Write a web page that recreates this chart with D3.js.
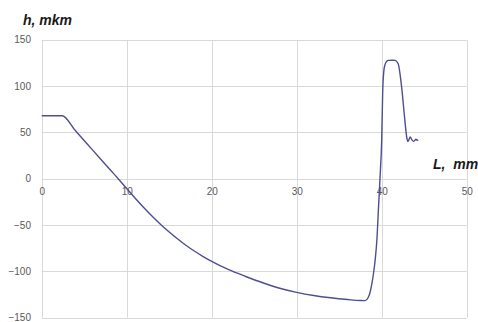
<!DOCTYPE html>
<html>
<head>
<meta charset="utf-8">
<script src="https://cdn.jsdelivr.net/npm/d3@7"></script>
<style>
  html, body { margin: 0; padding: 0; background: #fff; }
  svg { display: block; }
</style>
</head>
<body>
<svg id="chart" width="478" height="322"></svg>
<script>
// Profile measurement: height h (µm) along length L (mm)
const lengthMm = [0, 2.0, 2.4, 4.0, 6.0, 8.0, 9.0, 10, 11, 12, 13, 14, 15, 16, 17, 18, 19, 20,
  22, 24, 26, 28, 30, 32, 34, 36, 37.5, 38.05, 38.4, 38.65, 38.85, 39.04, 39.25, 39.44, 39.62,
  39.82, 40.0, 40.12, 40.25, 40.4, 40.6, 40.8, 41.3, 41.6, 41.85, 41.98, 42.2, 42.38, 42.68,
  42.96, 43.08, 43.22, 43.35, 43.55, 43.74, 43.9, 44.02, 44.2, 44.3];
const heightUm = [68, 68, 68, 51.5, 30.9, 10.3, 0, -10.6, -21, -31, -40.5, -49.3, -57.5, -65, -72,
  -78.3, -84, -89.2, -98.2, -105.5, -112.3, -118.2, -122.6, -126, -128.5, -130.4, -131.5, -131.6,
  -128.5, -122, -113, -102, -86, -65, -32,
  4, 42, 95, 116, 123.5, 126.8, 127.8, 128, 127.8, 125.5, 123, 110, 96, 67.3,
  44, 40.3, 42.5, 45, 42, 40.3, 41.5, 42.8, 41.4, 42];

const xTicks = [0, 10, 20, 30, 40, 50];
const yTicks = [-150, -100, -50, 0, 50, 100, 150];
const yTitle = "h, mkm";
const xTitle = "L,  mm";

const svg = d3.select("#chart");

const x = d3.scaleLinear().domain([0, 50]).range([41.7, 466.7]);
const y = d3.scaleLinear().domain([-150, 150]).range([317.7, 39.8]);

// grid
const grid = svg.append("g").attr("stroke", "#d9d9d9").attr("stroke-width", 1);
grid.selectAll("line.v").data(xTicks).join("line")
  .attr("x1", d => Math.round(x(d)) + 0.5).attr("x2", d => Math.round(x(d)) + 0.5)
  .attr("y1", y(150)).attr("y2", y(-150));
grid.selectAll("line.h").data(yTicks).join("line")
  .attr("y1", d => Math.round(y(d)) + 0.5).attr("y2", d => Math.round(y(d)) + 0.5)
  .attr("x1", x(0)).attr("x2", x(50));

// y axis labels
const yAxis = d3.axisLeft(y).tickValues(yTicks).tickSize(0).tickPadding(0);
svg.append("g")
  .attr("transform", `translate(${x(0) - 10.7},0)`)
  .call(yAxis)
  .call(g => g.select(".domain").remove())
  .call(g => g.selectAll("text")
    .attr("dy", "0.3em")
    .attr("fill", "#595959")
    .style("font-family", "'Liberation Sans', Arial, sans-serif")
    .style("font-size", "10px"));

// x axis labels, placed under the zero line
const xAxis = d3.axisBottom(x).tickValues(xTicks).tickSize(0).tickPadding(0);
svg.append("g")
  .attr("transform", `translate(0,${y(0) + 9})`)
  .call(xAxis)
  .call(g => g.select(".domain").remove())
  .call(g => g.selectAll("text")
    .attr("fill", "#595959")
    .style("font-family", "'Liberation Sans', Arial, sans-serif")
    .style("font-size", "10px"));

// profile line
const pts = lengthMm.map((L, i) => [L, heightUm[i]]);
const line = d3.line()
  .x(d => x(d[0]))
  .y(d => y(d[1]))
  .curve(d3.curveMonotoneX);
svg.append("path")
  .datum(pts)
  .attr("d", line)
  .attr("fill", "none")
  .attr("stroke", "#4e4e90")
  .attr("stroke-width", 1.4)
  .attr("stroke-linejoin", "round");

// axis titles
svg.append("text")
  .attr("x", 23).attr("y", 24.5)
  .attr("fill", "#1a1a1a")
  .style("font-family", "'Liberation Sans', Arial, sans-serif")
  .style("font-size", "14px")
  .style("font-weight", "bold")
  .style("font-style", "italic")
  .text(yTitle);

svg.append("text")
  .attr("x", 433).attr("y", 169)
  .attr("fill", "#1a1a1a")
  .style("font-family", "'Liberation Sans', Arial, sans-serif")
  .style("font-size", "14px")
  .style("font-weight", "bold")
  .style("font-style", "italic")
  .style("white-space", "pre")
  .text(xTitle);
</script>
</body>
</html>
